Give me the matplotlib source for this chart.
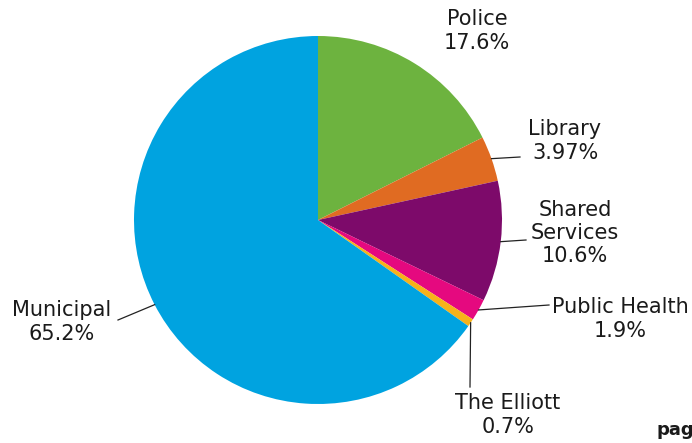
import numpy as np
import matplotlib.pyplot as plt

# budget share by department
labels = ["Police", "Library", "Shared\nServices", "Public Health", "The Elliott", "Municipal"]
shares = [17.6, 3.97, 10.6, 1.9, 0.7, 65.2]
share_text = ["17.6%", "3.97%", "10.6%", "1.9%", "0.7%", "65.2%"]
colors = ["#6db33f", "#e06b22", "#7d0a6a", "#e5097f", "#f7b21a", "#00a3e0"]

W, H = 692, 443
fig = plt.figure(figsize=(W / 100, H / 100), dpi=100)
ax = fig.add_axes([0, 0, 1, 1])

cx, cy, r = 318, H - 220, 184
wedges, _ = ax.pie(shares, colors=colors, startangle=90, counterclock=False,
                   center=(cx, cy), radius=r, frame=True,
                   wedgeprops=dict(linewidth=0))
ax.set_xlim(0, W)
ax.set_ylim(0, H)
ax.set_aspect("equal")
ax.axis("off")

# label positions (image pixels, y downward) and leader line ends
label_pos = [(477, 31), (565, 141), (575, 233), (620, 319), (508, 415), (62, 322)]
leader_end = [None, (520, 157), (526, 240), (549, 305), (470, 387), (118, 320)]

for w, lab, txt, (lx, ly), end in zip(wedges, labels, share_text, label_pos, leader_end):
    ang = np.deg2rad((w.theta1 + w.theta2) / 2)
    ex, ey = cx + r * np.cos(ang), cy + r * np.sin(ang)
    if end is not None:
        ax.plot([ex, end[0]], [ey, H - end[1]], color="#222222", lw=0.9)
    ax.text(lx, H - ly, f"{lab}\n{txt}", ha="center", va="center",
            fontsize=15, color="#1a1a1a", linespacing=1.2)

fig.text(657 / W, 1 - 430 / H, "page", fontsize=13, fontweight="bold",
         ha="left", va="center", color="#1a1a1a")

fig.savefig("out.png", dpi=100)
